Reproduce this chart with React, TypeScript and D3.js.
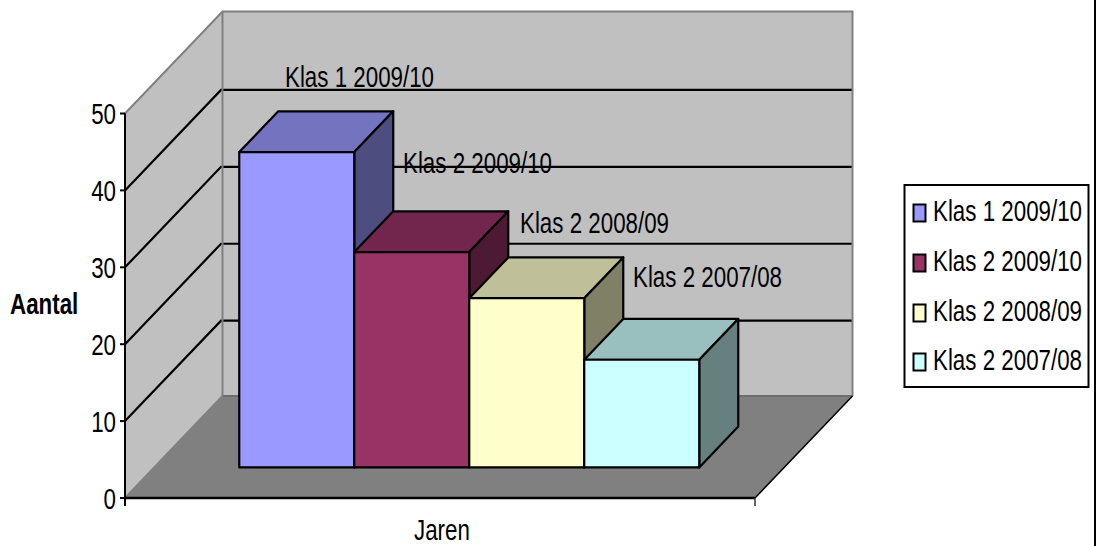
import React from "react";
import * as d3 from "d3";

const seriesNames = ["Klas 1 2009/10", "Klas 2 2009/10", "Klas 2 2008/09", "Klas 2 2007/08"];
const seriesValues = [41, 28, 22, 14];
const frontColors = ["#9999ff", "#993366", "#ffffcc", "#ccffff"];
const yTicks = [0, 10, 20, 30, 40, 50];
const labelAnchors = [
  [285, 87],
  [403, 173],
  [520, 233],
  [633, 287],
];
const legendRows = [221, 271, 321, 370];

const W = 1096;
const H = 546;
const FONT = "'Liberation Sans', Arial, sans-serif";
const SIZE = 30;
const SX = 0.745;

const y = d3.scaleLinear().domain([0, 50]).range([498, 113.5]);
const x = d3.scaleBand<string>().domain(seriesNames).range([210, 670]).padding(0);
const depthX = d3.scaleLinear().domain([0, 1]).range([0, 97.5]);
const depthY = d3.scaleLinear().domain([0, 1]).range([0, -102]);
const project = (px: number, v: number, d: number): [number, number] => [px + depthX(d), y(v) + depthY(d)];
const poly = d3.line<[number, number]>().curve(d3.curveLinearClosed);
const seg = d3.line<[number, number]>();

const X0 = 125;
const X1 = 755;
const D0 = 0.3;
const D1 = 0.7;
const GRID_DEPTH = 0.985;

function Narrow({ x: tx, y: ty, children, bold = false }: any) {
  return (
    <text
      transform={`translate(${tx},${ty}) scale(${SX},1)`}
      fontFamily={FONT}
      fontSize={SIZE}
      fontWeight={bold ? 700 : 400}
      fill="#000"
    >
      {children}
    </text>
  );
}

export default function App() {
  const sideWall = poly([project(X0, 0, 0), project(X0, 50, 0), project(X0, 50, 1), project(X0, 0, 1)]);
  const backWall = poly([project(X0, 0, 1), project(X0, 50, 1), project(X1, 50, 1), project(X1, 0, 1)]);
  const floor = poly([project(X0, 0, 0), project(X0, 0, 1), project(X1, 0, 1), project(X1, 0, 0)]);

  return (
    <svg
      width={W}
      height={H}
      viewBox={`0 0 ${W} ${H}`}
      style={{ position: "absolute", left: 0, top: 0, background: "#fff" }}
    >
      <path d={sideWall!} fill="#c0c0c0" />
      <path d={backWall!} fill="#c0c0c0" />
      <path d={floor!} fill="#808080" />

      {/* gridlines */}
      {yTicks
        .filter((t) => t > 0 && t < 50)
        .map((t) => (
          <path
            key={t}
            d={seg([project(X0, t, 0), project(X0, t, GRID_DEPTH), project(X1 + 1.5, t, GRID_DEPTH)])!}
            fill="none"
            stroke="#000"
            strokeWidth={2.2}
          />
        ))}

      {/* wall outlines */}
      <path
        d={seg([project(X0, 50, 0), project(X0, 50, 1), project(X1, 50, 1), project(X1, 0, 1)])!}
        fill="none"
        stroke="#808080"
        strokeWidth={2}
      />
      <path d={seg([project(X0, 50, 1), project(X0, 0, 1)])!} fill="none" stroke="#808080" strokeWidth={2} />
      <path d={seg([project(X0, 0, 1), project(X1, 0, 1)])!} fill="none" stroke="#6e6e6e" strokeWidth={2} />
      <path d={seg([project(X0, 0, 0), project(X0, 0, 1)])!} fill="none" stroke="#808080" strokeWidth={2} />

      {/* bars */}
      {seriesNames.map((name, i) => {
        const l = x(name)!;
        const r = l + x.bandwidth();
        const v = seriesValues[i];
        const base = frontColors[i];
        const top = d3.rgb(base);
        const topFill = d3.rgb(top.r * 0.75, top.g * 0.75, top.b * 0.75).formatHex();
        const sideFill = d3.rgb(top.r * 0.5, top.g * 0.5, top.b * 0.5).formatHex();
        const common = { stroke: "#000", strokeWidth: 2.2, strokeLinejoin: "round" as const };
        return (
          <g key={name}>
            <path
              d={poly([project(l, v, D0), project(l, v, D1), project(r, v, D1), project(r, v, D0)])!}
              fill={topFill}
              {...common}
            />
            <path
              d={poly([project(r, 0, D0), project(r, v, D0), project(r, v, D1), project(r, 0, D1)])!}
              fill={sideFill}
              {...common}
            />
            <path
              d={poly([project(l, 0, D0), project(l, v, D0), project(r, v, D0), project(r, 0, D0)])!}
              fill={base}
              {...common}
            />
          </g>
        );
      })}

      {/* axes */}
      <line x1={X0} x2={X0} y1={y(50)} y2={506} stroke="#000" strokeWidth={2} />
      <line x1={X0} x2={X1} y1={y(0)} y2={y(0)} stroke="#000" strokeWidth={2.5} />
      <line x1={X1} x2={X1} y1={y(0)} y2={506} stroke="#333" strokeWidth={1.5} />
      <path d={seg([project(X1, 0, 0), project(X1, 0, 1)])!} fill="none" stroke="#000" strokeWidth={1.5} />
      {yTicks.map((t) => (
        <g key={t}>
          <line x1={X0 - 5} x2={X0} y1={y(t)} y2={y(t)} stroke="#000" strokeWidth={2} />
          <text
            transform={`translate(116,${y(t) + 10.5}) scale(${SX},1)`}
            textAnchor="end"
            fontFamily={FONT}
            fontSize={SIZE}
            fill="#000"
          >
            {t}
          </text>
        </g>
      ))}

      {/* data labels */}
      {seriesNames.map((name, i) => (
        <Narrow key={name} x={labelAnchors[i][0]} y={labelAnchors[i][1]}>
          {name}
        </Narrow>
      ))}

      <Narrow x={414} y={539.5}>
        Jaren
      </Narrow>
      <Narrow x={10} y={314} bold>
        Aantal
      </Narrow>

      {/* legend */}
      <rect x={904.5} y={185} width={184} height={202} fill="#fff" stroke="#000" strokeWidth={2} />
      {seriesNames.map((name, i) => (
        <g key={name}>
          <rect
            x={913.5}
            y={legendRows[i] - 16.5}
            width={12}
            height={17}
            fill={frontColors[i]}
            stroke="#000"
            strokeWidth={2}
          />
          <Narrow x={933} y={legendRows[i]}>
            {name}
          </Narrow>
        </g>
      ))}

      {/* outer right frame line */}
      <line x1={1095} x2={1095} y1={0} y2={H} stroke="#000" strokeWidth={2} />
    </svg>
  );
}
